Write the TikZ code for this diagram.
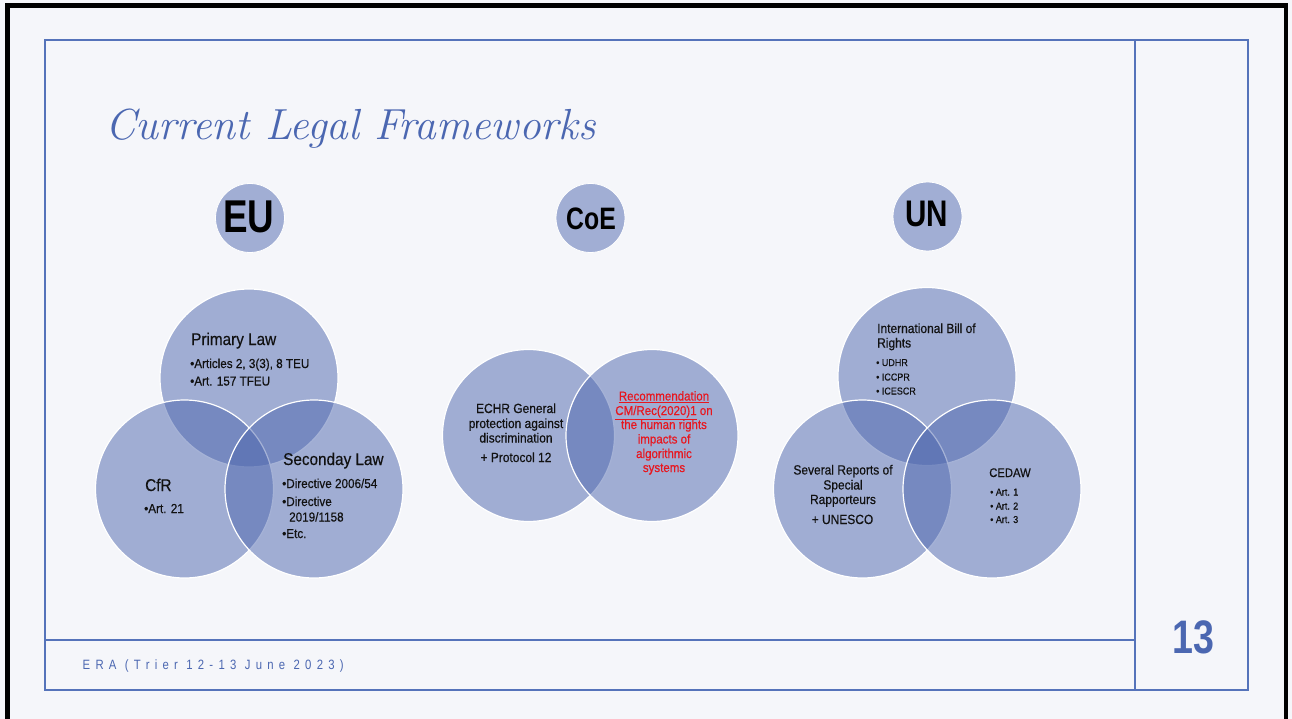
\documentclass[tikz,border=0pt]{standalone}
\usepackage{fontspec}
\newfontfamily\narrow[FakeStretch=0.9,FakeBold=0.4]{Liberation Sans}
\newfontfamily\hdrfont[FakeStretch=0.8]{Liberation Sans}
\newfontfamily\footfont[FakeStretch=0.84,LetterSpace=39]{Liberation Sans}
\newcommand\pxsize[1]{\fontsize{#1}{#1}\selectfont}

\definecolor{pagebg}{HTML}{F5F6FA}
\definecolor{framec}{HTML}{5573BA}
\definecolor{titlec}{HTML}{4B67B1}
\definecolor{vennc}{HTML}{4D66AE}
\definecolor{hdrfill}{HTML}{A1AED4}
\definecolor{inkc}{HTML}{111111}
\definecolor{alertc}{HTML}{E8161E}

\tikzset{
  hdrcirc/.style={circle, fill=hdrfill, draw=white, line width=0.8pt, minimum size=69pt, inner sep=0pt},
  venn/.style={circle, fill=vennc, fill opacity=0.5, draw=white, line width=1.2pt, minimum size=#1, inner sep=0pt},
  venn/.default=178pt,
  hdrtxt/.style={anchor=base, inner sep=0pt, text=black, font=\hdrfont\bfseries\pxsize{#1}},
  head/.style={anchor=base west, inner sep=0pt, text=inkc, font=\narrow\pxsize{17}},
  item/.style={anchor=base west, inner sep=0pt, text=inkc, font=\narrow\pxsize{13}},
  small/.style={anchor=base west, inner sep=0pt, text=inkc, font=\narrow\pxsize{10}},
  ctr/.style={anchor=base, inner sep=0pt, text=inkc, font=\narrow\pxsize{13.3}},
  redtxt/.style={anchor=base, inner sep=0pt, text=alertc, font=\narrow\pxsize{12.8}},
}

\begin{document}
\begin{tikzpicture}[x=1pt,y=-1pt]
\useasboundingbox (0,0) rectangle (1292,719);
\fill[pagebg] (0,0) rectangle (1292,719);

% outer dark border (open at the bottom)
\draw[black, line width=4.5pt, line join=miter] (7.5,719) -- (7.5,5.5) -- (1286,5.5) -- (1286,719);

% slide frame
\draw[framec, line width=1.1pt] (45,40) rectangle (1248,690);
\draw[framec, line width=1.1pt] (1135,40) -- (1135,690);
\draw[framec, line width=1.1pt] (45,640) -- (1135,640);

% title
\node[anchor=base west, inner sep=0pt, text=titlec, font=\itshape\pxsize{43.5}] (title) at (105,140) {Current Legal Frameworks};

% group headers
\node[hdrcirc] (eucirc) at (250,218) {};
\node[hdrcirc] (coecirc) at (590.5,218) {};
\node[hdrcirc] (uncirc) at (927.5,216.5) {};
\node[hdrtxt=46] (eutxt) at (249,233) {EU};
\node[hdrtxt=31] (coetxt) at (591,229.5) {CoE};
\node[hdrtxt=37] (untxt) at (926.5,227) {UN};

% EU Venn
\node[venn] (prim) at (249,378) {};
\node[venn] (cfr) at (184.5,489) {};
\node[venn] (sec) at (314,489) {};

\node[head] (primh) at (191,345) {Primary Law};
\node[item] (prim1) at (190,368) {•Articles 2, 3(3), 8 TEU};
\node[item] (prim2) at (190,385.5) {•Art. 157 TFEU};

\node[head] (cfrh) at (145,491) {CfR};
\node[item] (cfr1) at (144,513) {•Art. 21};

\node[head] (sech) at (283,465) {Seconday Law};
\node[item] (sec1) at (282,488) {•Directive 2006/54};
\node[item] (sec2) at (282,506) {•Directive};
\node[item] (sec3) at (289,521.5) {2019/1158};
\node[item] (sec4) at (282,538) {•Etc.};

% CoE Venn
\node[venn=172pt] (echr) at (528.5,435.5) {};
\node[venn=172pt] (rec) at (652,435.5) {};

\node[ctr] (echr1) at (516,413) {ECHR General};
\node[ctr] (echr2) at (516,428) {protection against};
\node[ctr] (echr3) at (516,442.5) {discrimination};
\node[ctr] (echr4) at (516,462) {+ Protocol 12};

\node[redtxt] (rec1) at (664,400.5) {\underline{Recommendation}};
\node[redtxt] (rec2) at (664,415) {\underline{CM/Rec(2020)1} on};
\node[redtxt] (rec3) at (664,429) {the human rights};
\node[redtxt] (rec4) at (664,443.5) {impacts of};
\node[redtxt] (rec5) at (664,458) {algorithmic};
\node[redtxt] (rec6) at (664,472) {systems};

% UN Venn
\node[venn] (bill) at (927,376.5) {};
\node[venn] (rep) at (862.5,489) {};
\node[venn] (cedaw) at (992,489) {};

\node[item, font=\narrow\pxsize{13.3}] (bill1) at (877,333) {International Bill of};
\node[item, font=\narrow\pxsize{13.3}] (bill2) at (877,347.5) {Rights};
\node[small] (bill3) at (876,366) {• UDHR};
\node[small] (bill4) at (876,380.5) {• ICCPR};
\node[small] (bill5) at (876,394.5) {• ICESCR};

\node[ctr] (rep1) at (843,474.5) {Several Reports of};
\node[ctr] (rep2) at (843,489.5) {Special};
\node[ctr] (rep3) at (843,504) {Rapporteurs};
\node[ctr] (rep4) at (842.5,524) {+ UNESCO};

\node[ctr, font=\narrow\pxsize{12.5}] (cedawh) at (1010,477) {CEDAW};
\node[small] (ced1) at (990,495.5) {• Art. 1};
\node[small] (ced2) at (990,509.5) {• Art. 2};
\node[small] (ced3) at (990,523) {• Art. 3};

% footer and slide number
\node[anchor=base west, inner sep=0pt, text=titlec, font=\footfont\pxsize{13.5}] (foot) at (82.5,669) {ERA (Trier 12-13 June 2023)};
\node[anchor=base, inner sep=0pt, text=titlec, font=\hdrfont\bfseries\pxsize{47}] (pageno) at (1193.5,653) {13};
\end{tikzpicture}
\end{document}
